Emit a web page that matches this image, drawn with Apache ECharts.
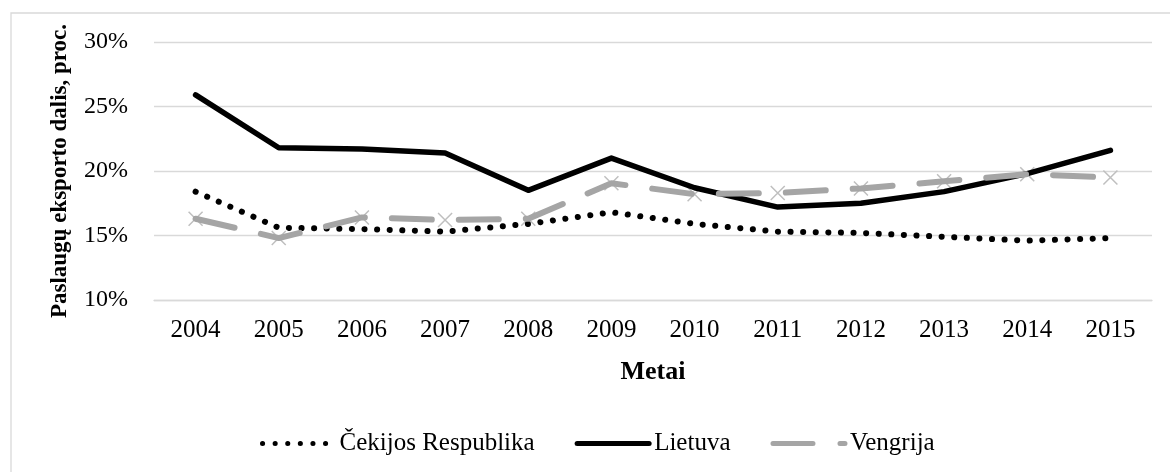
<!DOCTYPE html>
<html>
<head>
<meta charset="utf-8">
<script src="https://cdn.jsdelivr.net/npm/echarts@6/dist/echarts.min.js"></script>
<style>
  html, body { margin: 0; padding: 0; background: #fff; }
  #chart { width: 1170px; height: 472px; }
</style>
</head>
<body>
<div id="chart"></div>
<script>
const years = ['2004', '2005', '2006', '2007', '2008', '2009', '2010', '2011', '2012', '2013', '2014', '2015'];
const cekija = [18.4, 15.6, 15.5, 15.3, 15.9, 16.8, 15.9, 15.3, 15.2, 14.9, 14.6, 14.8];
const lietuva = [25.9, 21.8, 21.7, 21.4, 18.5, 21.0, 18.7, 17.2, 17.5, 18.4, 19.8, 21.6];
const vengrija = [16.3, 14.8, 16.4, 16.2, 16.3, 19.05, 18.2, 18.3, 18.65, 19.2, 19.75, 19.5];
const yTicks = [10, 15, 20, 25, 30];

const FONT = 'Liberation Serif';
const GRID_COLOR = '#D9D9D9';

window.onload = () => {
    const chart = echarts.init(document.getElementById('chart'));

    chart.setOption({
        animation: false,
        backgroundColor: '#fff',
        textStyle: { fontFamily: FONT, color: '#000' },
        graphic: [{
            type: 'rect',
            shape: { x: 11, y: 13, width: 1200, height: 500 },
            style: { fill: 'none', stroke: GRID_COLOR, lineWidth: 1.3 },
            silent: true
        }],
        grid: { left: 154, right: 18, top: 42, bottom: 172 },
        legend: {
            left: 255,
            top: 426,
            itemWidth: 72,
            itemHeight: 14,
            itemGap: 40,
            // hide the legend symbol, keep only the line
            itemStyle: { opacity: 0 },
            lineStyle: { width: 5 },
            textStyle: { fontFamily: FONT, fontSize: 25, color: '#000' },
            data: ['Čekijos Respublika', 'Lietuva', 'Vengrija']
        },
        xAxis: {
            type: 'category',
            data: years,
            boundaryGap: true,
            axisTick: { show: false },
            axisLine: { lineStyle: { color: GRID_COLOR, width: 1.3 } },
            axisLabel: { fontFamily: FONT, fontSize: 25, color: '#000', margin: 18 },
            name: 'Metai',
            nameLocation: 'middle',
            nameGap: 59,
            nameTextStyle: { fontFamily: FONT, fontSize: 26, fontWeight: 'bold', color: '#000' }
        },
        yAxis: {
            type: 'value',
            min: yTicks[0],
            max: yTicks[yTicks.length - 1],
            interval: 5,
            axisLine: { show: false },
            axisTick: { show: false },
            axisLabel: { fontFamily: FONT, fontSize: 24, color: '#000', margin: 26, formatter: '{value}%' },
            splitLine: { lineStyle: { color: GRID_COLOR, width: 1.3 } },
            name: 'Paslaugų eksporto dalis, proc.',
            nameLocation: 'middle',
            nameGap: 82,
            nameTextStyle: { fontFamily: FONT, fontSize: 23, fontWeight: 'bold', color: '#000' }
        },
        series: [
            {
                name: 'Čekijos Respublika',
                type: 'line',
                data: cekija,
                symbol: 'none',
                z: 3,
                lineStyle: { color: '#000', width: 6, type: [0.1, 12.5], cap: 'round' },
                itemStyle: { color: '#000' }
            },
            {
                name: 'Lietuva',
                type: 'line',
                data: lietuva,
                symbol: 'none',
                z: 3,
                lineStyle: { color: '#000', width: 5.5, cap: 'round', join: 'round' },
                itemStyle: { color: '#000' }
            },
            {
                name: 'Vengrija',
                type: 'line',
                data: vengrija,
                symbol: 'none',
                z: 4,
                lineStyle: { color: '#A5A5A5', width: 6, type: [40, 27], cap: 'round' },
                itemStyle: { color: '#A5A5A5' }
            },
            {
                // markers sit under the dashed line
                name: 'Vengrija',
                type: 'line',
                data: vengrija,
                symbol: 'path://M0,0L10,10M10,0L0,10',
                symbolSize: 14,
                z: 1,
                lineStyle: { width: 0 },
                itemStyle: { color: 'transparent', borderColor: '#BFBFBF', borderWidth: 1.5 }
            }
        ]
    });
};
</script>
</body>
</html>
